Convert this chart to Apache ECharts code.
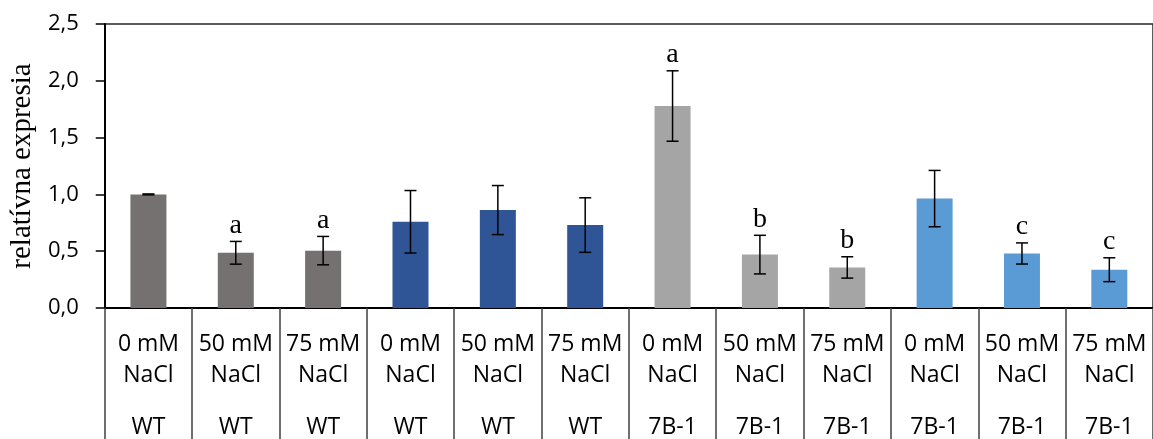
<!DOCTYPE html>
<html>
<head>
<meta charset="utf-8">
<script src="https://cdn.jsdelivr.net/npm/echarts@6/dist/echarts.min.js"></script>
<style>
html,body{margin:0;padding:0;background:#fff;}
#chart{width:1153px;height:439px;}
</style>
</head>
<body>
<div id="chart"></div>
<script>
const concentrations = ['0 mM', '50 mM', '75 mM', '0 mM', '50 mM', '75 mM', '0 mM', '50 mM', '75 mM', '0 mM', '50 mM', '75 mM'];
const salt = ['NaCl', 'NaCl', 'NaCl', 'NaCl', 'NaCl', 'NaCl', 'NaCl', 'NaCl', 'NaCl', 'NaCl', 'NaCl', 'NaCl'];
const genotypes = ['WT', 'WT', 'WT', 'WT', 'WT', 'WT', '7B-1', '7B-1', '7B-1', '7B-1', '7B-1', '7B-1'];
const means = [1.00, 0.486, 0.505, 0.759, 0.862, 0.73, 1.778, 0.47, 0.357, 0.963, 0.48, 0.337];
const errors = [0.004, 0.10, 0.125, 0.275, 0.216, 0.24, 0.31, 0.17, 0.094, 0.248, 0.093, 0.105];
const letters = ['', 'a', 'a', '', '', '', 'a', 'b', 'b', '', 'c', 'c'];
const groupOfBar = [0, 0, 0, 1, 1, 1, 2, 2, 2, 3, 3, 3];
const yTicks = [0, 0.5, 1.0, 1.5, 2.0, 2.5];

const palette = ['#767171', '#2F5597', '#A5A5A5', '#5B9BD5'];
const sansFont = 'Open Sans';
const serifFont = 'Liberation Serif';

const chart = echarts.init(document.getElementById('chart'), null, {renderer: 'canvas'});

const option = {
  animation: false,
  backgroundColor: '#ffffff',
  grid: {
    left: 98, right: -3, top: 24, bottom: 131,
    show: true, borderColor: '#262626', borderWidth: 1.5, backgroundColor: 'transparent'
  },
  xAxis: [
    {
      type: 'category',
      data: concentrations.map((c, i) => c + '\n' + salt[i]),
      boundaryGap: true,
      axisLine: {show: true, lineStyle: {color: '#000', width: 2}},
      axisTick: {show: true, interval: 0, length: 131, lineStyle: {color: '#404040', width: 1.5}},
      axisLabel: {
        interval: 0, margin: 21, color: '#000',
        fontFamily: sansFont, fontSize: 23, lineHeight: 31
      },
      splitLine: {show: false}
    },
    {
      type: 'category',
      position: 'bottom',
      data: genotypes,
      boundaryGap: true,
      axisLine: {show: false},
      axisTick: {show: false},
      axisLabel: {
        interval: 0, margin: 108, color: '#000',
        fontFamily: sansFont, fontSize: 23, lineHeight: 23
      },
      splitLine: {show: false}
    }
  ],
  yAxis: {
    type: 'value',
    min: yTicks[0], max: yTicks[yTicks.length - 1], interval: 0.5,
    name: 'relatívna expresia',
    nameLocation: 'middle',
    nameRotate: 90,
    nameGap: 65,
    nameTextStyle: {fontFamily: serifFont, fontSize: 29, color: '#000'},
    axisLine: {show: true, lineStyle: {color: '#000', width: 2}},
    axisTick: {show: true, length: 9, lineStyle: {color: '#000', width: 1.5}},
    axisLabel: {
      margin: 26, color: '#000', fontFamily: sansFont, fontSize: 22,
      formatter: v => v.toFixed(1).replace('.', ',')
    },
    splitLine: {show: false}
  },
  series: [
    {
      type: 'bar',
      xAxisIndex: 0,
      barWidth: 36,
      data: means.map((v, i) => ({value: v, itemStyle: {color: palette[groupOfBar[i]]}})),
      z: 2
    },
    {
      type: 'custom',
      xAxisIndex: 0,
      data: means.map((m, i) => [i, m, errors[i], letters[i]]),
      z: 5,
      renderItem: function (params, api) {
        const idx = api.value(0);
        const m = api.value(1);
        const e = api.value(2);
        const letter = letters[idx];
        const top = api.coord([idx, m + e]);
        const bot = api.coord([idx, m - e]);
        const hw = 6;
        const style = {stroke: '#000', lineWidth: 1.5};
        const children = [
          {type: 'line', shape: {x1: top[0], y1: top[1], x2: bot[0], y2: bot[1]}, style: style},
          {type: 'line', shape: {x1: top[0] - hw, y1: top[1], x2: top[0] + hw, y2: top[1]}, style: style},
          {type: 'line', shape: {x1: bot[0] - hw, y1: bot[1], x2: bot[0] + hw, y2: bot[1]}, style: style}
        ];
        if (letter) {
          children.push({
            type: 'text',
            style: {
              text: letter, x: top[0], y: top[1] - 2,
              align: 'center', verticalAlign: 'bottom',
              fontFamily: serifFont, fontSize: 28, fill: '#000'
            }
          });
        }
        return {type: 'group', children: children};
      }
    }
  ]
};
chart.setOption(option);
</script>
</body>
</html>
